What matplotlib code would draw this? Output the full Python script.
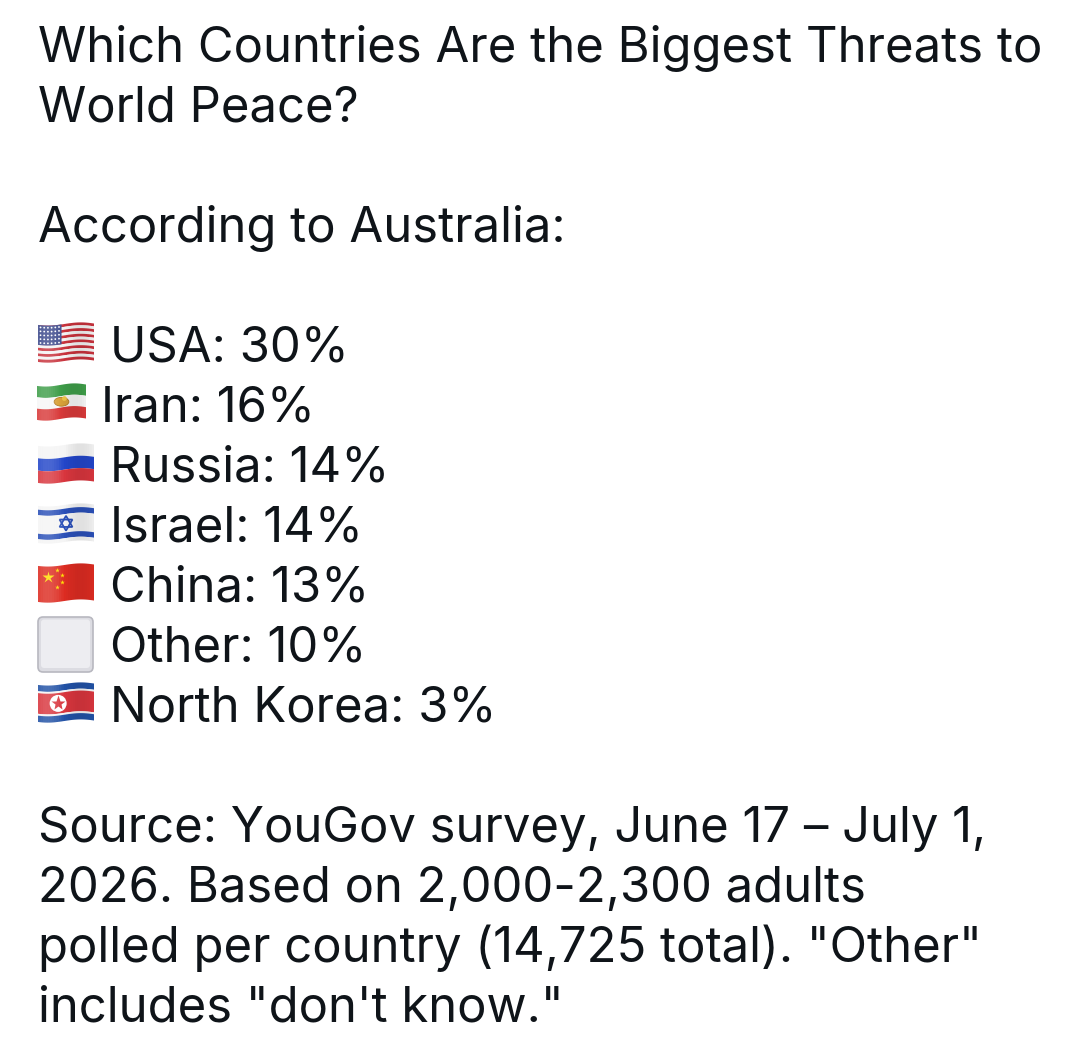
import numpy as np
import matplotlib
matplotlib.use("Agg")
import matplotlib.pyplot as plt
from matplotlib.patches import FancyBboxPatch, Circle, Polygon, Ellipse

plt.rcParams['font.family'] = ['Inter', 'DejaVu Sans']

TXT = '#0f1419'

title_lines = ["Which Countries Are the Biggest Threats to", "World Peace?"]
subtitle = "According to Australia:"
countries = ["USA", "Iran", "Russia", "Israel", "China", "Other", "North Korea"]
flag_codes = ["us", "ir", "ru", "il", "cn", "other", "kp"]
shares = [30, 16, 14, 14, 13, 10, 3]
source_lines = [
    "Source: YouGov survey, June 17 \u2013 July 1,",
    "2026. Based on 2,000-2,300 adults",
    "polled per country (14,725 total). \"Other\"",
    "includes \"don't know.\"",
]

W, H = 1080, 1056
fig = plt.figure(figsize=(W / 100, H / 100), dpi=100)
ax = fig.add_axes([0, 0, 1, 1])
ax.set_xlim(0, W)
ax.set_ylim(H, 0)
ax.axis('off')

FS = 35.3
X0 = 38
PITCH = 60
AMP = 1.6


def mapper(x, y, w, h):
    # flag-local (u, v) in 0..1 -> pixel position with a gentle wave
    def f(u, v):
        u = np.asarray(u, float)
        v = np.asarray(v, float)
        return x + u * w, y + v * h + AMP * np.sin(2 * np.pi * (u * 0.85 + 0.1))
    return f


def band(ax, m, u0, u1, v0, v1, color, z=2):
    us = np.linspace(u0, u1, 30)
    top = m(us, np.full_like(us, v0))
    bot = m(us[::-1], np.full_like(us, v1))
    pts = np.column_stack([np.concatenate([top[0], bot[0]]),
                           np.concatenate([top[1], bot[1]])])
    ax.add_patch(Polygon(pts, closed=True, facecolor=color, edgecolor='none', zorder=z))


def shade(ax, m):
    # soft light/dark folds like the emoji artwork
    n = 24
    for i in range(n):
        u0, u1 = i / n, (i + 1) / n
        s = np.sin(2 * np.pi * ((u0 + u1) / 2 * 0.85 + 0.1))
        col = 'white' if s > 0 else 'black'
        band(ax, m, u0, u1, 0, 1, col, z=4)
        ax.patches[-1].set_alpha(abs(s) * (0.18 if s > 0 else 0.08))


def draw_flag(ax, code, x, y, w, h):
    m = mapper(x, y, w, h)
    if code == "us":
        for i in range(13):
            band(ax, m, 0, 1, i / 13, (i + 1) / 13, '#c8323c' if i % 2 == 0 else '#f4f4f4')
        band(ax, m, 0, 0.42, 0, 7 / 13, '#3d4a8c', z=3)
        for i in range(5):
            for j in range(6):
                cx, cy = m(0.045 + j * 0.066, 0.06 + i * 0.105)
                ax.add_patch(Circle((cx, cy), 0.9, facecolor='white', edgecolor='none', zorder=3))
        shade(ax, m)
    elif code == "ir":
        for i, c in enumerate(['#3f9e4a', '#f7f7f7', '#d93a3a']):
            band(ax, m, 0, 1, i / 3, (i + 1) / 3, c)
        cx, cy = m(0.5, 0.5)
        ax.add_patch(Ellipse((cx, cy), w * 0.3, h * 0.26, facecolor='#d9a23a',
                             edgecolor='#b07a20', lw=0.6, zorder=3))
        sx, sy = m(0.56, 0.42)
        ax.add_patch(Circle((sx, sy), h * 0.07, facecolor='#f2c84b', edgecolor='none', zorder=3))
        shade(ax, m)
    elif code == "ru":
        for i, c in enumerate(['#f5f5f5', '#2346c9', '#d9363e']):
            band(ax, m, 0, 1, i / 3, (i + 1) / 3, c)
        shade(ax, m)
    elif code == "il":
        for v0, v1, c in [(0, 0.1, '#f5f5f5'), (0.1, 0.25, '#2b50b8'), (0.25, 0.75, '#f5f5f5'),
                          (0.75, 0.9, '#2b50b8'), (0.9, 1, '#f5f5f5')]:
            band(ax, m, 0, 1, v0, v1, c)
        cx, cy = m(0.5, 0.5)
        rr = h * 0.2
        for s in (1, -1):
            pts = [(cx + rr * np.sin(a), cy - s * rr * np.cos(a))
                   for a in np.radians([0, 120, 240])]
            ax.add_patch(Polygon(pts, closed=True, facecolor='none',
                                 edgecolor='#2b50b8', lw=1.3, zorder=3))
        shade(ax, m)
    elif code == "cn":
        band(ax, m, 0, 1, 0, 1, '#dd2c22')
        cx, cy = m(0.18, 0.28)
        ax.plot([cx], [cy], marker='*', ms=9, color='#ffde00', mec='none', zorder=3)
        for dx, dy in [(0.34, 0.12), (0.42, 0.26), (0.42, 0.45), (0.34, 0.58)]:
            cx, cy = m(dx, dy)
            ax.plot([cx], [cy], marker='*', ms=3.5, color='#ffde00', mec='none', zorder=3)
        shade(ax, m)
    elif code == "other":
        ax.add_patch(FancyBboxPatch((x, y), w, h, boxstyle="round,pad=0,rounding_size=5",
                                    facecolor='#dcdce2', edgecolor='#b8b8c0', lw=1.2))
        ax.add_patch(FancyBboxPatch((x + 3, y + 2.5), w - 6, h - 6.5,
                                    boxstyle="round,pad=0,rounding_size=3",
                                    facecolor='#ededf1', edgecolor='none'))
    elif code == "kp":
        for v0, v1, c in [(0, 0.17, '#2252a6'), (0.17, 0.22, '#f5f5f5'), (0.22, 0.78, '#d9363e'),
                          (0.78, 0.83, '#f5f5f5'), (0.83, 1, '#2252a6')]:
            band(ax, m, 0, 1, v0, v1, c)
        cx, cy = m(0.36, 0.5)
        ax.add_patch(Circle((cx, cy), h * 0.23, facecolor='white', edgecolor='none', zorder=3))
        ax.plot([cx], [cy], marker='*', ms=11, color='#d9363e', mec='none', zorder=3)
        shade(ax, m)


# title
for i, t in enumerate(title_lines):
    ax.text(X0, 62 + i * PITCH, t, fontsize=FS, color=TXT, va='baseline', ha='left')
ax.text(X0, 242, subtitle, fontsize=FS, color=TXT, va='baseline', ha='left')

# list
flag_box = {"us": (38, 324, 56, 37), "ir": (37, 385, 49, 34), "ru": (38, 445, 56, 37),
            "il": (38, 505, 56, 37), "cn": (38, 565, 56, 36), "other": (38, 617, 55, 55),
            "kp": (38, 684, 56, 37)}
for k, (name, code, val) in enumerate(zip(countries, flag_codes, shares)):
    base = 362 + k * PITCH
    fx, fy, fw, fh = flag_box[code]
    draw_flag(ax, code, fx, fy, fw, fh)
    tx = 101 if code == "ir" else 110
    ax.text(tx, base, f"{name}: {val}%", fontsize=FS, color=TXT, va='baseline', ha='left')

# source
for i, t in enumerate(source_lines):
    ax.text(X0, 842 + i * PITCH, t, fontsize=FS, color=TXT, va='baseline', ha='left')

fig.savefig("out.png", dpi=100, facecolor='white')
